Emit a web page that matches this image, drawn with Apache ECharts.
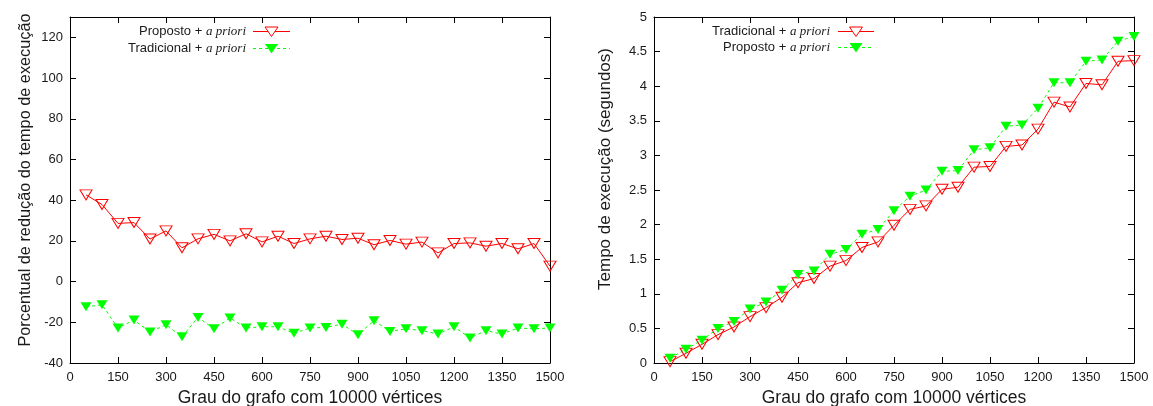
<!DOCTYPE html>
<html>
<head>
<meta charset="utf-8">
<script src="https://cdn.jsdelivr.net/npm/echarts@6/dist/echarts.min.js"></script>
<style>
html,body{margin:0;padding:0;background:#fff;}
#c{width:1153px;height:406px;}
</style>
</head>
<body>
<div id="c"></div>
<script>
// ---- data ----
const degrees = [50,100,150,200,250,300,350,400,450,500,550,600,650,700,750,800,850,900,950,1000,1050,1100,1150,1200,1250,1300,1350,1400,1450,1500];
// Left chart: percentage reduction of execution time
const leftProposto = [42.6,37.9,28.6,29,20.9,24.9,16.6,21,23.2,20,23.5,19.5,22.3,18.7,21,22.3,20.7,21.3,18.1,20.2,18.4,19.4,14.1,18.7,19,17.4,18.7,16.1,18.7,7.6];
const leftTradicional = [-12.4,-11.4,-22.8,-18.9,-24.8,-21.2,-27.1,-17.6,-23.2,-17.9,-22.8,-22.2,-22.2,-25.4,-22.8,-22.5,-20.9,-26.1,-19.2,-24.5,-23.2,-24.1,-25.8,-22.2,-27.7,-24.1,-25.8,-22.8,-23.2,-22.8];
// Right chart: execution time (seconds)
const rightTradicional = [0.02,0.14,0.27,0.41,0.52,0.67,0.80,0.95,1.16,1.22,1.40,1.48,1.67,1.75,1.99,2.22,2.27,2.51,2.54,2.83,2.84,3.13,3.15,3.38,3.77,3.70,4.04,4.02,4.36,4.37];
const rightProposto = [0.07,0.20,0.33,0.50,0.60,0.78,0.88,1.05,1.28,1.33,1.57,1.64,1.86,1.93,2.20,2.41,2.50,2.77,2.78,3.08,3.11,3.42,3.44,3.68,4.05,4.05,4.36,4.38,4.65,4.72];
const xTitle = 'Grau do grafo com 10000 vértices';
const leftYTitle = 'Porcentual de redução do tempo de execução';
const rightYTitle = 'Tempo de execução (segundos)';
const nameProposto = 'Proposto + a priori';
const nameTradicional = 'Tradicional + a priori';

const RED = '#ff0000', GREEN = '#00ff00';
const pairs = arr => degrees.map((d,i)=>[d, arr[i]]);
const labelColor = '#1a1a1a';
const fontSans = '"Liberation Sans", Arial, sans-serif';
const fontSerif = '"Liberation Serif", "Times New Roman", serif';

const hollowItem = {color:'rgba(255,255,255,0)', borderColor:RED, borderWidth:1};
const hollowLine = {color:RED, width:1, type:'solid'};
const filledItem = {color:GREEN, borderColor:GREEN, borderWidth:0};
const filledLine = {color:GREEN, width:1, type:[3,3]};

function xAxes(gridIndex){
  const base = {type:'value', gridIndex, min:0, max:1500, interval:150,
    axisLine:{show:true, onZero:false, lineStyle:{color:'#000', width:1}},
    axisTick:{show:true, inside:true, length:6, lineStyle:{color:'#000'}},
    splitLine:{show:false}};
  return [
    Object.assign({}, base, {position:'bottom',
      axisLabel:{show:true, color:labelColor, fontSize:13, fontFamily:fontSans, margin:8, formatter: v => String(v)},
      name:xTitle, nameLocation:'middle', nameGap:20,
      nameTextStyle:{color:labelColor, fontSize:17.5, fontFamily:fontSans}}),
    Object.assign({}, base, {position:'top', axisLabel:{show:false}})
  ];
}
function yAxes(gridIndex, min, max, interval, title, gap, shift, fs){
  const base = {type:'value', gridIndex, min, max, interval,
    axisLine:{show:true, onZero:false, lineStyle:{color:'#000', width:1}},
    axisTick:{show:true, inside:true, length:6, lineStyle:{color:'#000'}},
    splitLine:{show:false}};
  return [
    Object.assign({}, base, {position:'left',
      axisLabel:{show:true, color:labelColor, fontSize:13, fontFamily:fontSans, margin:7,
        showMaxLabel: max % interval === 0, formatter: v => String(v)},
      name:title, nameLocation:'middle', nameGap:gap, nameRotate:90,
      nameTextStyle:{color:labelColor, fontSize:fs, fontFamily:fontSans, padding:[0,0,0,shift]}}),
    Object.assign({}, base, {position:'right', axisLabel:{show:false}})
  ];
}
function hollowSeries(id, name, data, xi, yi){
  return {type:'line', id, name, data, xAxisIndex:xi, yAxisIndex:yi,
    symbol:'triangle', symbolRotate:180, symbolSize:[12,10], showAllSymbol:true,
    itemStyle:hollowItem, lineStyle:hollowLine, animation:false, z:3};
}
function filledSeries(id, name, data, xi, yi){
  return {type:'line', id, name, data, xAxisIndex:xi, yAxisIndex:yi,
    symbol:'triangle', symbolRotate:180, symbolSize:[11,9], showAllSymbol:true,
    itemStyle:filledItem, lineStyle:filledLine, animation:false, z:3};
}
const richText = {
  a:{fontFamily:fontSans, fontSize:13, fill:labelColor},
  b:{fontFamily:fontSerif, fontStyle:'italic', fontSize:13, fill:labelColor}
};
function legendText(n){ const p = n.split(' + '); return '{a|' + p[0] + ' + }{b|' + p[1] + '}'; }
// key entry: label right-aligned at textRight, sample line from lineX0 to lineX1 at row y
function keyEntry(name, textRight, lineX0, lineX1, y, hollow){
  const cx = (lineX0 + lineX1) / 2, yy = Math.round(y) + 0.5;
  return [
    {type:'text', silent:true, style:{text:legendText(name), rich:richText, x:textRight, y:yy,
      align:'right', verticalAlign:'middle', fontFamily:fontSans, fontSize:13, fill:labelColor}},
    {type:'line', silent:true, shape:{x1:lineX0, y1:yy, x2:lineX1, y2:yy},
      style: hollow ? {stroke:RED, lineWidth:1} : {stroke:GREEN, lineWidth:1, lineDash:[3,3]}},
    {type:'polygon', silent:true, shape:{points:[[cx-6.5, yy-4.5],[cx+6.5, yy-4.5],[cx, yy+5]]}, z:101,
      style: hollow ? {fill:'#fff', stroke:RED, lineWidth:1} : {fill:GREEN}}
  ];
}

const chart = echarts.init(document.getElementById('c'), null, {renderer:'canvas'});
chart.setOption({
  animation:false,
  backgroundColor:'#fff',
  grid:[
    {left:70, right:603, top:17, bottom:43, outerBoundsMode:'none', containLabel:false},
    {left:654, right:19, top:17, bottom:43, outerBoundsMode:'none', containLabel:false}
  ],
  xAxis:[...xAxes(0), ...xAxes(1)],
  yAxis:[...yAxes(0,-40,130,20,leftYTitle,36,20,16.3), ...yAxes(1,0,5,0.5,rightYTitle,40,42,17)],
  graphic:[
    ...keyEntry(nameProposto, 246, 253, 290, 31, true),
    ...keyEntry(nameTradicional, 246, 253, 290, 47.5, false),
    ...keyEntry(nameTradicional, 830, 838, 874, 30.5, true),
    ...keyEntry(nameProposto, 830, 838, 874, 47.3, false)
  ],
  series:[
    hollowSeries('lp', nameProposto, pairs(leftProposto), 0, 0),
    filledSeries('lt', nameTradicional, pairs(leftTradicional), 0, 0),
    hollowSeries('rt', nameTradicional, pairs(rightTradicional), 2, 2),
    filledSeries('rp', nameProposto, pairs(rightProposto), 2, 2)
  ]
});
</script>
</body>
</html>
